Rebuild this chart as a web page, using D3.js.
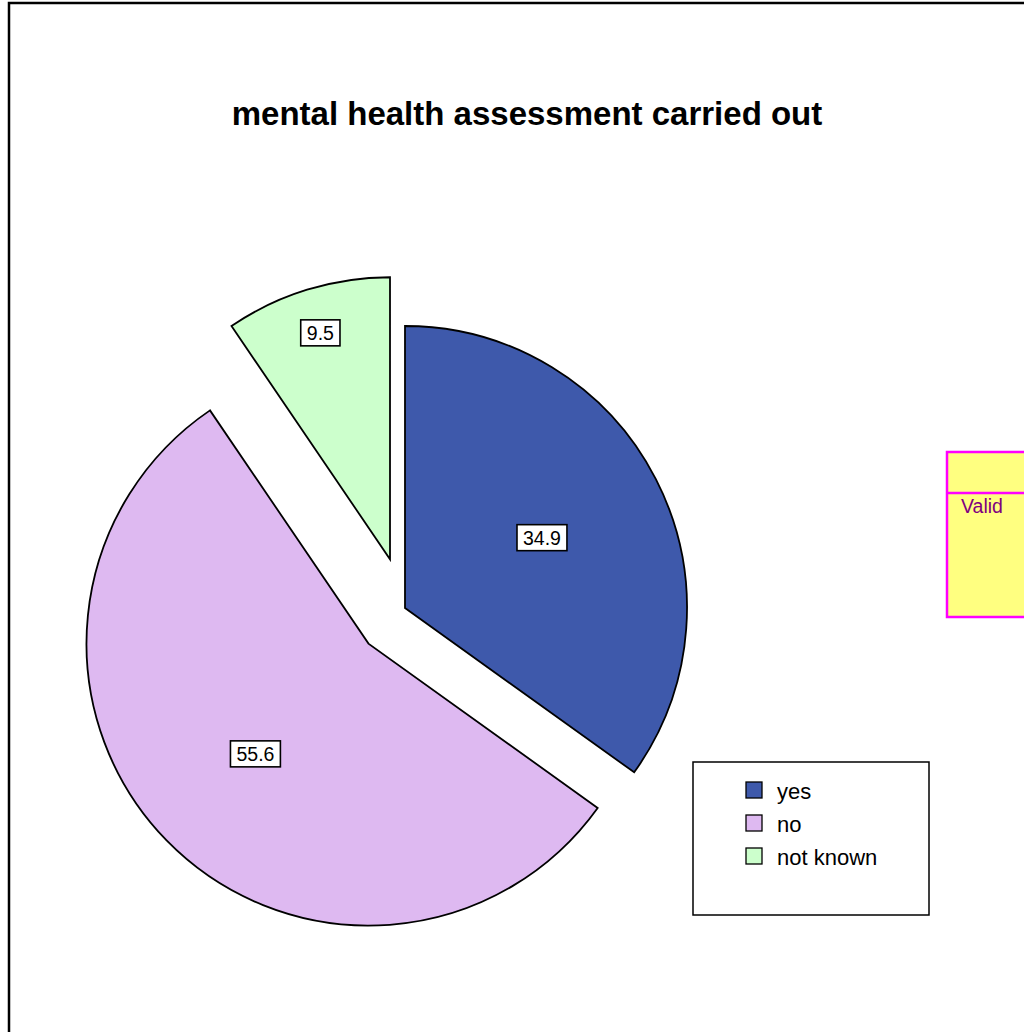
<!DOCTYPE html>
<html>
<head>
<meta charset="utf-8">
<script src="https://cdn.jsdelivr.net/npm/d3@7"></script>
<style>
  html, body { margin: 0; padding: 0; background: #fff; }
  svg { display: block; }
</style>
</head>
<body>
<svg id="chart" width="1024" height="1032"></svg>
<script>
// ---- data ----
const categories = ["yes", "no", "not known"];
const percentages = [34.9, 55.6, 9.5];
const sliceColors = ["#3E59AB", "#DEB9F1", "#CCFFCC"];
const titleText = "mental health assessment carried out";
const sideLabel = "Valid";

// ---- layout / style ----
const W = 1024, H = 1032;
const cx = 405, cy = 608, R = 282;
const explode = [0, 51, 51];
const labelRadius = [0.546, 0.56, 0.84];
const labelFont = 19.5;

const svg = d3.select("#chart");

// outer frame
svg.append("rect")
  .attr("x", 9).attr("y", 3)
  .attr("width", W + 20).attr("height", H + 20)
  .attr("fill", "#fff").attr("stroke", "#000").attr("stroke-width", 2.5);

// title
svg.append("text")
  .attr("x", 527).attr("y", 125)
  .attr("text-anchor", "middle")
  .attr("font-family", "Liberation Sans, Arial, sans-serif")
  .attr("font-weight", "bold")
  .attr("font-size", 33)
  .attr("fill", "#000")
  .text(titleText);

// pie
const pie = d3.pie().sort(null).startAngle(0).endAngle(2 * Math.PI);
const arcs = pie(percentages);
const arc = d3.arc().innerRadius(0).outerRadius(R);

const g = svg.append("g").attr("transform", `translate(${cx},${cy})`);

const slices = g.selectAll("g.slice").data(arcs).enter().append("g")
  .attr("class", "slice")
  .attr("transform", (d, i) => {
    const mid = (d.startAngle + d.endAngle) / 2;
    return `translate(${explode[i] * Math.sin(mid)},${-explode[i] * Math.cos(mid)})`;
  });

slices.append("path")
  .attr("d", arc)
  .attr("fill", (d, i) => sliceColors[i])
  .attr("stroke", "#000")
  .attr("stroke-width", 1.8)
  .attr("stroke-linejoin", "miter");

// value labels
slices.each(function (d, i) {
  const mid = (d.startAngle + d.endAngle) / 2;
  const r = labelRadius[i] * R;
  const x = r * Math.sin(mid), y = -r * Math.cos(mid);
  const sel = d3.select(this);
  const txt = sel.append("text")
    .attr("x", x).attr("y", y + labelFont * 0.36)
    .attr("text-anchor", "middle")
    .attr("font-family", "Liberation Sans, Arial, sans-serif")
    .attr("font-size", labelFont)
    .attr("fill", "#000")
    .text(d3.format(".1f")(percentages[i]));
  const bb = txt.node().getBBox();
  sel.insert("rect", "text")
    .attr("x", x - bb.width / 2 - 6)
    .attr("y", y - 13)
    .attr("width", bb.width + 12)
    .attr("height", 26)
    .attr("fill", "#fff")
    .attr("stroke", "#000")
    .attr("stroke-width", 1.6);
});

// legend
const lg = svg.append("g").attr("transform", "translate(693,762)");
lg.append("rect")
  .attr("width", 236).attr("height", 153)
  .attr("fill", "#fff").attr("stroke", "#000").attr("stroke-width", 1.5);
const items = lg.selectAll("g.item").data(categories).enter().append("g")
  .attr("class", "item")
  .attr("transform", (d, i) => `translate(53,${20 + i * 33})`);
items.append("rect")
  .attr("width", 16).attr("height", 16)
  .attr("fill", (d, i) => sliceColors[i])
  .attr("stroke", "#000").attr("stroke-width", 1.3);
items.append("text")
  .attr("x", 31).attr("y", 17)
  .attr("font-family", "Liberation Sans, Arial, sans-serif")
  .attr("font-size", 22)
  .attr("fill", "#000")
  .text(d => d);

// yellow side box
const yb = svg.append("g").attr("transform", "translate(947,452)");
yb.append("rect")
  .attr("width", 120).attr("height", 165)
  .attr("fill", "#FFFF80").attr("stroke", "#FF00FF").attr("stroke-width", 2.5);
yb.append("line")
  .attr("x1", 0).attr("x2", 120).attr("y1", 41).attr("y2", 41)
  .attr("stroke", "#FF00FF").attr("stroke-width", 2.5);
yb.append("text")
  .attr("x", 14).attr("y", 61)
  .attr("font-family", "Liberation Sans, Arial, sans-serif")
  .attr("font-size", 19.5)
  .attr("fill", "#800080")
  .text(sideLabel);
</script>
</body>
</html>
